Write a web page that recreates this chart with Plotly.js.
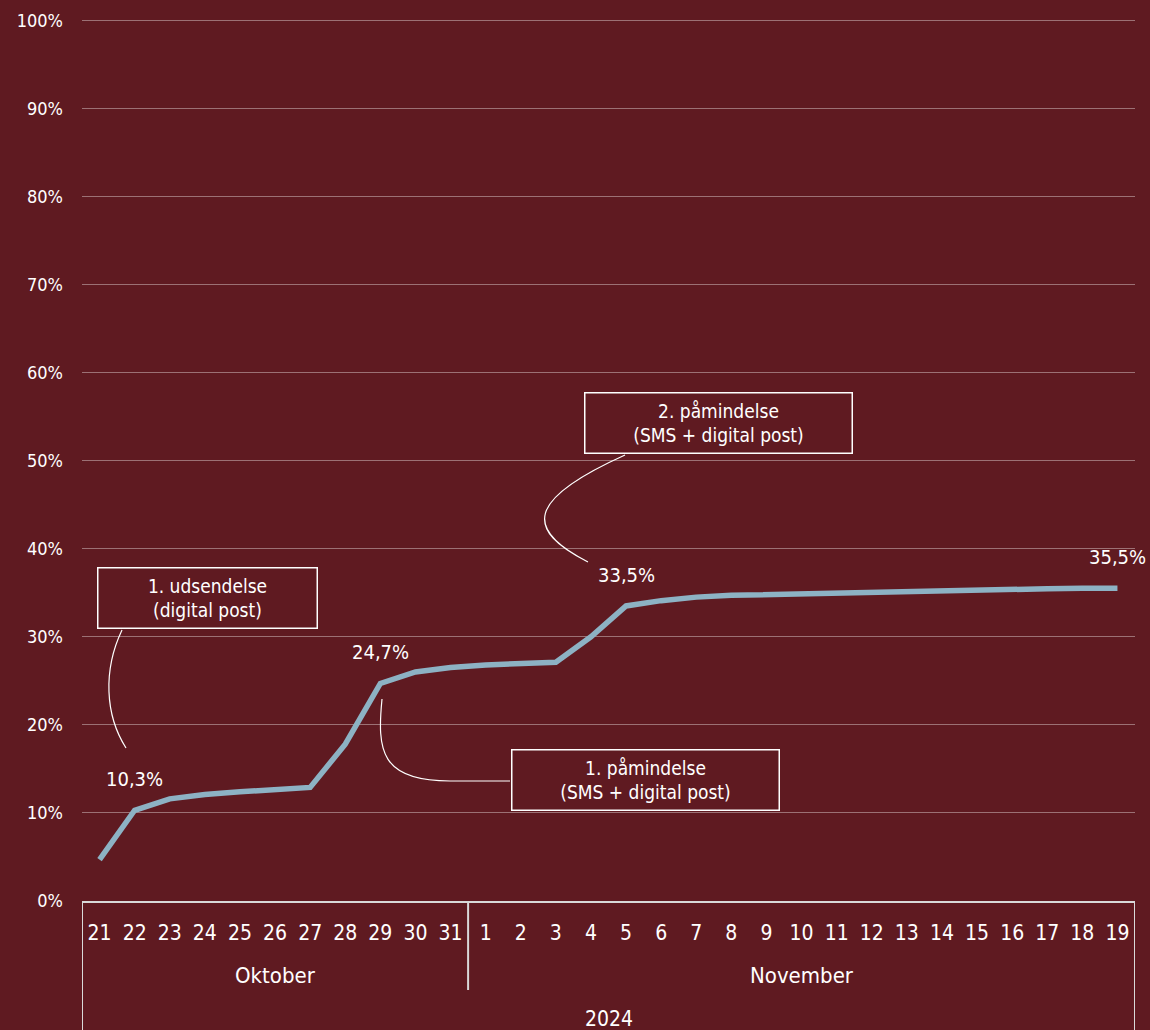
<!DOCTYPE html>
<html><head><meta charset="utf-8">
<script src="https://cdn.plot.ly/plotly-3.0.1.min.js"></script>
<style>html,body{margin:0;padding:0;background:#5f1a21;}</style>
</head><body><div id="chart" style="width:1150px;height:1030px;"></div>
<script>
// ---- data ----
const octoberDays = ['21','22','23','24','25','26','27','28','29','30','31'];
const novemberDays = ['1','2','3','4','5','6','7','8','9','10','11','12','13','14','15','16','17','18','19'];
const monthNames = ['Oktober', 'November'];
const yearLabel = '2024';
const shareOpened = [4.7, 10.3, 11.6, 12.1, 12.4, 12.7, 12.9, 17.8, 24.7, 26.0, 26.5,
                     26.8, 27.0, 27.1, 30.0, 33.5, 34.1, 34.5, 34.7, 34.8, 34.9, 35.0, 35.1, 35.2, 35.3, 35.35, 35.4, 35.45, 35.5, 35.5];
const labelledPoints = [1, 8, 15, 29];  // indices of points with value labels
const callouts = [
  '1. udsendelse<br>(digital post)',
  '1. påmindelse<br>(SMS + digital post)',
  '2. påmindelse<br>(SMS + digital post)'
];

// ---- build ----
const dayLevel = octoberDays.concat(novemberDays);
const monthGroups = [
  {name: monthNames[0], start: 0, end: octoberDays.length - 1},
  {name: monthNames[1], start: octoberDays.length, end: dayLevel.length - 1}
];

const FONT = 'DejaVu Sans Condensed, DejaVu Sans, sans-serif';
const BG = '#5f1a21';
const AXC = '#d9d9d9';
const M = {l: 82, r: 15, t: 18, b: 129};
const PW = 1150 - M.l - M.r, PH = 1030 - M.t - M.b;
const px = X => (X - M.l) / PW;
const py = Y => (M.t + PH - Y) / PH;
const P = (X, Y) => px(X).toFixed(4) + ',' + py(Y).toFixed(4);

const fmt = v => v.toFixed(1).replace('.', ',') + '%';

const trace = {
  type: 'scatter', mode: 'lines',
  x: dayLevel, y: shareOpened,
  line: {color: '#8db2c4', width: 5.5},
  hoverinfo: 'y'
};

const annotations = labelledPoints.map(i => ({
  xref: 'x', yref: 'y', x: i, y: shareOpened[i], text: fmt(shareOpened[i]),
  showarrow: false, yshift: 31, font: {family: FONT, size: 20, color: '#ffffff'}
}));

// month labels centred under their group of days
monthGroups.forEach(g => annotations.push({
  xref: 'x', yref: 'paper', x: (g.start + g.end) / 2, y: py(975), xanchor: 'center', yanchor: 'middle',
  showarrow: false, text: g.name, font: {family: FONT, size: 22, color: '#ffffff'}
}));

const boxStyle = {xref: 'paper', yref: 'paper', xanchor: 'center', yanchor: 'middle',
  showarrow: false, align: 'center',
  bordercolor: '#ffffff', borderwidth: 1.5, borderpad: 0, bgcolor: BG,
  font: {family: FONT, size: 19, color: '#ffffff'}};
annotations.push(Object.assign({}, boxStyle, {text: callouts[0], x: px(207), y: py(597.5), width: 218, height: 59}));
annotations.push(Object.assign({}, boxStyle, {text: callouts[1], x: px(645), y: py(779.5), width: 266, height: 59}));
annotations.push(Object.assign({}, boxStyle, {text: callouts[2], x: px(718), y: py(423), width: 266, height: 59}));
annotations.push({xref: 'paper', yref: 'paper', x: 0.5, y: py(1019), xanchor: 'center', yanchor: 'middle',
  showarrow: false, text: yearLabel, font: {family: FONT, size: 21, color: '#ffffff'}});

const connector = {type: 'path', xref: 'paper', yref: 'paper', line: {color: '#ffffff', width: 1.2}};
const shapes = [
  Object.assign({}, connector, {path: 'M' + P(122, 630) + ' C' + P(103, 670) + ' ' + P(105, 715) + ' ' + P(126, 748)}),
  Object.assign({}, connector, {path: 'M' + P(382, 699) + ' C' + P(377, 750) + ' ' + P(380, 781) + ' ' + P(450, 781) + ' L' + P(510, 781)}),
  Object.assign({}, connector, {path: 'M' + P(625, 455) + ' C' + P(525, 500) + ' ' + P(525, 530) + ' ' + P(588, 562)})
];
// month dividers (inner ones stop above the year row; outer edges frame the year row too)
monthGroups.forEach((g, k) => {
  if (k > 0) shapes.push({type: 'line', xref: 'x', yref: 'paper', x0: g.start - 0.5, x1: g.start - 0.5,
    y0: py(901), y1: py(990), line: {color: AXC, width: 2}});
});
shapes.push({type: 'line', xref: 'x', yref: 'paper', x0: -0.5, x1: -0.5, y0: py(901), y1: py(1040), line: {color: AXC, width: 2}});
shapes.push({type: 'line', xref: 'x', yref: 'paper', x0: dayLevel.length - 0.5, x1: dayLevel.length - 0.5,
  y0: py(901), y1: py(1040), line: {color: AXC, width: 2}});

const layout = {
  width: 1150, height: 1030,
  paper_bgcolor: BG, plot_bgcolor: BG,
  margin: M,
  showlegend: false,
  font: {family: FONT, color: '#ffffff'},
  xaxis: {
    type: 'category', range: [-0.5, dayLevel.length - 0.5],
    showgrid: false, zeroline: false,
    showline: true, linecolor: AXC, linewidth: 2,
    ticks: '', ticklabelstandoff: 12, tickangle: 0,
    tickfont: {family: FONT, size: 21, color: '#ffffff'}
  },
  yaxis: {
    range: [0, 100.25], dtick: 10, ticksuffix: '%',
    showgrid: true, gridcolor: 'rgba(255,255,255,0.38)', gridwidth: 1,
    zeroline: false, showline: false, ticks: '', ticklabelstandoff: 18,
    tickfont: {family: FONT, size: 18, color: '#ffffff'}
  },
  annotations: annotations,
  shapes: shapes
};

Plotly.newPlot('chart', [trace], layout, {displayModeBar: false, staticPlot: true});
</script></body></html>
